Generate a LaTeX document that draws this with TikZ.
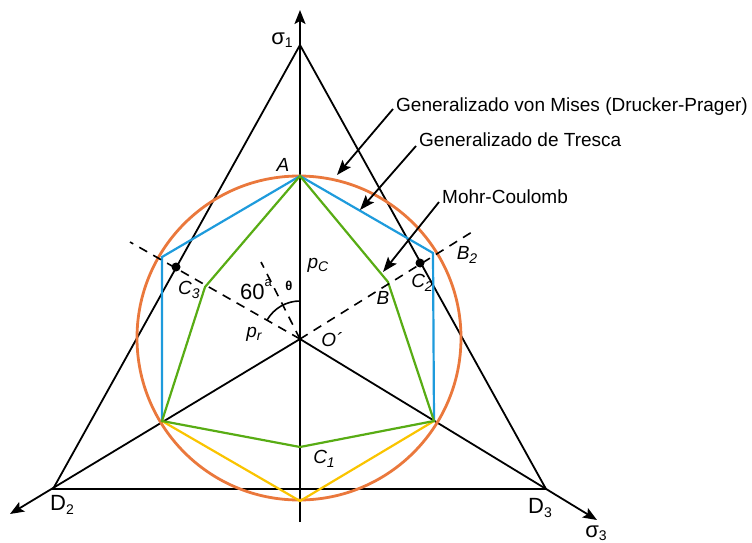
\documentclass[tikz,border=0pt]{standalone}
\usepackage{fontspec}
\setmainfont{Liberation Sans}
\usetikzlibrary{positioning, arrows.meta}
\usepackage{xcolor}
\definecolor{misescolor}{RGB}{234,120,60}
\definecolor{trescacolor}{RGB}{30,155,220}
\definecolor{mohrcolor}{RGB}{88,172,20}
\definecolor{lowercolor}{RGB}{250,196,0}
\newcommand{\withsub}[2]{#1\raisebox{-0.35ex}{\fontsize{14}{14}\selectfont #2}}

\begin{document}
\begin{tikzpicture}[x=1pt,y=1pt]
  \tikzset{
    axisline/.style={draw, line width=1.8pt, -{Stealth[length=14pt,width=11pt,inset=3pt]}},
    triline/.style={draw, line width=1.8pt},
    guide/.style={draw, line width=1.6pt, dash pattern=on 9pt off 7pt},
    pointer/.style={draw, line width=1.8pt, -{Stealth[length=15pt,width=11pt,inset=3pt]}},
    lbl/.style={font=\fontsize{19}{22}\selectfont\itshape, inner sep=0pt},
    bigtext/.style={font=\fontsize{22}{24}\selectfont, inner sep=0pt},
    note/.style={font=\fontsize{19}{22}\selectfont, anchor=west, inner sep=3pt},
    dotmark/.style={circle, fill, inner sep=0pt, minimum size=9pt}
  }
  \useasboundingbox (0,0) rectangle (752,542);

  % points of the construction
  \coordinate (O) at (300,203);
  \coordinate (top) at (300,532);
  \coordinate (foot) at (300,20);
  \coordinate (apex) at (300,497);
  \coordinate (D2) at (53,53);
  \coordinate (D3) at (546,53);
  \coordinate (s2) at (10,28);
  \coordinate (s3) at (597,22);

  % hexagon vertices
  \coordinate (A) at (300,366);
  \coordinate (T2) at (433,289);
  \coordinate (T3) at (434,121);
  \coordinate (T4) at (300,41);
  \coordinate (T5) at (162,121);
  \coordinate (T6) at (162,285);
  \coordinate (B) at (388,260);
  \coordinate (C1) at (300,95);
  \coordinate (M6) at (205,255);

  % axes and triangle
  \draw[axisline] (foot) -- (top);
  \draw[axisline] (O) -- (s2);
  \draw[axisline] (O) -- (s3);
  \draw[triline] (apex) -- (D2) -- (D3) -- cycle;

  % yield surfaces
  \draw[misescolor, line width=2.8pt] (299,204) circle[radius=162];
  \draw[trescacolor, line width=2.2pt] (T5) -- (T6) -- (A) -- (T2) -- (T3);
  \draw[lowercolor, line width=2.2pt] (T5) -- (T4) -- (T3);
  \draw[mohrcolor, line width=2.2pt] (A) -- (B) -- (T3) -- (C1) -- (T5) -- (M6) -- cycle;

  % dashed guides and angle
  \coordinate (g3) at (130,300);
  \coordinate (g2) at (472,310);
  \coordinate (gt) at (261,280);
  \draw[guide] (O) -- (g3);
  \draw[guide] (O) -- (g2);
  \draw[guide] (O) -- (gt);
  \draw[line width=1.6pt] (O) ++(150:38) arc[start angle=150, end angle=90, radius=38];

  % points on the triangle
  \node[dotmark] (C3dot) at (176,275) {};
  \node[dotmark] (C2dot) at (420,279) {};

  % labels
  \node[bigtext] (sig1) at (282,502) {σ\raisebox{-0.3ex}{\fontsize{14}{14}\selectfont 1}};
  \node[bigtext] (sig3) at (596,9) {σ\raisebox{-0.3ex}{\fontsize{14}{14}\selectfont 3}};
  \node[bigtext] (labD2) at (62,37) {\withsub{D}{2}};
  \node[bigtext] (labD3) at (540,34) {\withsub{D}{3}};
  \node[lbl] (labA) at (283,377) {A};
  \node[lbl] (labB) at (383,244) {B};
  \node[lbl] (labB2) at (467,287) {\withsub{B}{2}};
  \node[lbl] (labC2) at (422,259) {\withsub{C}{2}};
  \node[lbl] (labC3) at (189,252) {\withsub{C}{3}};
  \node[lbl] (labC1) at (324,83) {\withsub{C}{1}};
  \node[lbl] (labpc) at (318,277) {\withsub{p}{C}};
  \node[lbl] (labpr) at (254,208) {\withsub{p}{r}};
  \node[lbl] (labO) at (332,202) {O´};
  \node[bigtext] (ang) at (256,252) {60\raisebox{1.1ex}{\fontsize{13}{13}\selectfont a}};
  \node[font=\fontsize{13}{13}\selectfont\bfseries, inner sep=0pt] (theta) at (289,256) {θ};

  % annotations
  \node[note] (vm) at (393,435) {Generalizado von Mises (Drucker-Prager)};
  \node[note] (tr) at (416,402) {Generalizado de Tresca};
  \node[note] (mc) at (439,345) {Mohr-Coulomb};
  \coordinate (vmtip) at (337,367);
  \coordinate (trtip) at (360,332);
  \coordinate (mctip) at (383,270);
  \draw[pointer] ([yshift=-2pt]vm.west) -- (vmtip);
  \draw[pointer] ([yshift=-6pt]tr.west) -- (trtip);
  \draw[pointer] ([yshift=-5pt]mc.west) -- (mctip);
\end{tikzpicture}
\end{document}
